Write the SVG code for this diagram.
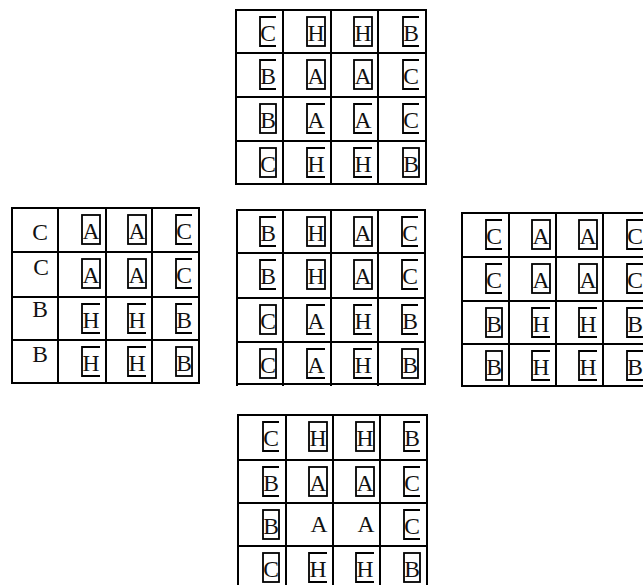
<svg xmlns="http://www.w3.org/2000/svg" width="643" height="587" viewBox="0 0 643 587">
<style>
.bg{fill:#fff}
.gl{fill:none;stroke:#000;stroke-width:2}
.f,.k{fill:none;stroke:#000;stroke-width:1.8}
text{font-family:"Liberation Serif","Times New Roman",serif;font-size:23.5px;text-anchor:middle;fill:#111}
</style>
<rect class="bg" x="0" y="0" width="643" height="587"/>
<g id="connectors"/>

<g id="grid-top">
<path class="gl" d="M236 10H426V184H236Z M283 10V184 M331 10V184 M378 10V184 M236 53H426 M236 97H426 M236 141H426"/>
<g><path class="k" d="M276 17H260V46H276"/><text x="268" y="41">C</text></g>
<g><rect class="f" x="307" y="17" width="18" height="29"/><text x="316" y="41">H</text></g>
<g><rect class="f" x="354" y="17" width="18" height="29"/><text x="363" y="41">H</text></g>
<g><path class="k" d="M419 17H403V46H419"/><text x="411" y="41">B</text></g>

<g><path class="k" d="M276 60H260V89H276"/><text x="268" y="84">B</text></g>
<g><rect class="f" x="307" y="60" width="18" height="29"/><text x="316" y="84">A</text></g>
<g><rect class="f" x="354" y="60" width="18" height="29"/><text x="363" y="84">A</text></g>
<g><path class="k" d="M419 60H403V89H419"/><text x="411" y="84">C</text></g>

<g><rect class="f" x="260" y="104" width="16" height="29"/><text x="268" y="128">B</text></g>
<g><path class="k" d="M325 104H307V133H325"/><text x="316" y="128">A</text></g>
<g><path class="k" d="M372 104H354V133H372"/><text x="363" y="128">A</text></g>
<g><path class="k" d="M419 104H403V133H419"/><text x="411" y="128">C</text></g>

<g><rect class="f" x="260" y="148" width="16" height="29"/><text x="268" y="172">C</text></g>
<g><path class="k" d="M325 148H307V177H325"/><text x="316" y="172">H</text></g>
<g><path class="k" d="M372 148H354V177H372"/><text x="363" y="172">H</text></g>
<g><rect class="f" x="403" y="148" width="16" height="29"/><text x="411" y="172">B</text></g>
</g>

<g id="grid-left">
<path class="gl" d="M12 208H199V383H12Z M58 208V383 M106 208V383 M152 208V383 M12 252H199 M12 297H199 M12 340H199"/>
<g><text x="40" y="240">C</text></g>
<g><rect class="f" x="82" y="215" width="18" height="29"/><text x="91" y="239">A</text></g>
<g><rect class="f" x="128" y="215" width="18" height="29"/><text x="137" y="239">A</text></g>
<g><path class="k" d="M192 215H176V244H192"/><text x="184" y="239">C</text></g>

<g><text x="41" y="275">C</text></g>
<g><rect class="f" x="82" y="259" width="18" height="29"/><text x="91" y="283">A</text></g>
<g><rect class="f" x="128" y="259" width="18" height="29"/><text x="137" y="283">A</text></g>
<g><path class="k" d="M192 259H176V288H192"/><text x="184" y="283">C</text></g>

<g><text x="40" y="317">B</text></g>
<g><path class="k" d="M100 304H82V333H100"/><text x="91" y="328">H</text></g>
<g><path class="k" d="M146 304H128V333H146"/><text x="137" y="328">H</text></g>
<g><path class="k" d="M192 304H176V333H192"/><text x="184" y="328">B</text></g>

<g><text x="40" y="362">B</text></g>
<g><path class="k" d="M100 347H82V376H100"/><text x="91" y="371">H</text></g>
<g><path class="k" d="M146 347H128V376H146"/><text x="137" y="371">H</text></g>
<g><rect class="f" x="176" y="347" width="16" height="29"/><text x="184" y="371">B</text></g>
</g>

<g id="grid-middle">
<path class="gl" d="M237 210H425V384H237Z M283 210V386 M331 210V386 M378 210V386 M237 386V384 M237 253H425 M237 298H425 M237 342H425"/>
<g><path class="k" d="M276 217H260V246H276"/><text x="268" y="241">B</text></g>
<g><rect class="f" x="307" y="217" width="18" height="29"/><text x="316" y="241">H</text></g>
<g><rect class="f" x="354" y="217" width="18" height="29"/><text x="363" y="241">A</text></g>
<g><path class="k" d="M418 217H402V246H418"/><text x="410" y="241">C</text></g>

<g><path class="k" d="M276 260H260V289H276"/><text x="268" y="284">B</text></g>
<g><rect class="f" x="307" y="260" width="18" height="29"/><text x="316" y="284">H</text></g>
<g><rect class="f" x="354" y="260" width="18" height="29"/><text x="363" y="284">A</text></g>
<g><path class="k" d="M418 260H402V289H418"/><text x="410" y="284">C</text></g>

<g><rect class="f" x="260" y="305" width="16" height="29"/><text x="268" y="329">C</text></g>
<g><path class="k" d="M325 305H307V334H325"/><text x="316" y="329">A</text></g>
<g><path class="k" d="M372 305H354V334H372"/><text x="363" y="329">H</text></g>
<g><path class="k" d="M418 305H402V334H418"/><text x="410" y="329">B</text></g>

<g><rect class="f" x="260" y="349" width="16" height="29"/><text x="268" y="373">C</text></g>
<g><path class="k" d="M325 349H307V378H325"/><text x="316" y="373">A</text></g>
<g><path class="k" d="M372 349H354V378H372"/><text x="363" y="373">H</text></g>
<g><rect class="f" x="402" y="349" width="16" height="29"/><text x="410" y="373">B</text></g>
</g>

<g id="grid-right">
<path class="gl" d="M650 213H462V386H650 M509 213V386 M556 213V386 M603 213V386 M462 257H650 M462 301H650 M462 344H650"/>
<g><path class="k" d="M502 220H486V249H502"/><text x="494" y="244">C</text></g>
<g><rect class="f" x="532" y="220" width="18" height="29"/><text x="541" y="244">A</text></g>
<g><rect class="f" x="579" y="220" width="18" height="29"/><text x="588" y="244">A</text></g>
<g><path class="k" d="M643 220H627V249H643"/><text x="635" y="244">C</text></g>

<g><path class="k" d="M502 264H486V293H502"/><text x="494" y="288">C</text></g>
<g><rect class="f" x="532" y="264" width="18" height="29"/><text x="541" y="288">A</text></g>
<g><rect class="f" x="579" y="264" width="18" height="29"/><text x="588" y="288">A</text></g>
<g><path class="k" d="M643 264H627V293H643"/><text x="635" y="288">C</text></g>

<g><rect class="f" x="486" y="308" width="16" height="29"/><text x="494" y="332">B</text></g>
<g><path class="k" d="M550 308H532V337H550"/><text x="541" y="332">H</text></g>
<g><path class="k" d="M597 308H579V337H597"/><text x="588" y="332">H</text></g>
<g><path class="k" d="M643 308H627V337H643"/><text x="635" y="332">B</text></g>

<g><rect class="f" x="486" y="351" width="16" height="29"/><text x="494" y="375">B</text></g>
<g><path class="k" d="M550 351H532V380H550"/><text x="541" y="375">H</text></g>
<g><path class="k" d="M597 351H579V380H597"/><text x="588" y="375">H</text></g>
<g><path class="k" d="M643 351H627V380H643"/><text x="635" y="375">B</text></g>
</g>

<g id="grid-bottom">
<path class="gl" d="M238 585V415H427V585 M286 415V585 M333 415V585 M380 415V585 M238 460H427 M238 503H427 M238 546H427"/>
<g><path class="k" d="M279 422H263V451H279"/><text x="271" y="446">C</text></g>
<g><rect class="f" x="309" y="422" width="18" height="29"/><text x="318" y="446">H</text></g>
<g><rect class="f" x="356" y="422" width="18" height="29"/><text x="365" y="446">H</text></g>
<g><path class="k" d="M420 422H404V451H420"/><text x="412" y="446">B</text></g>

<g><path class="k" d="M279 467H263V496H279"/><text x="271" y="491">B</text></g>
<g><rect class="f" x="309" y="467" width="18" height="29"/><text x="318" y="491">A</text></g>
<g><rect class="f" x="356" y="467" width="18" height="29"/><text x="365" y="491">A</text></g>
<g><path class="k" d="M420 467H404V496H420"/><text x="412" y="491">C</text></g>

<g><rect class="f" x="263" y="510" width="16" height="29"/><text x="271" y="534">B</text></g>
<g><text x="319" y="532">A</text></g>
<g><text x="366" y="532">A</text></g>
<g><path class="k" d="M420 510H404V539H420"/><text x="412" y="534">C</text></g>

<g><rect class="f" x="263" y="553" width="16" height="29"/><text x="271" y="577">C</text></g>
<g><path class="k" d="M327 553H309V582H327"/><text x="318" y="577">H</text></g>
<g><path class="k" d="M374 553H356V582H374"/><text x="365" y="577">H</text></g>
<g><rect class="f" x="404" y="553" width="16" height="29"/><text x="412" y="577">B</text></g>
</g>
</svg>
